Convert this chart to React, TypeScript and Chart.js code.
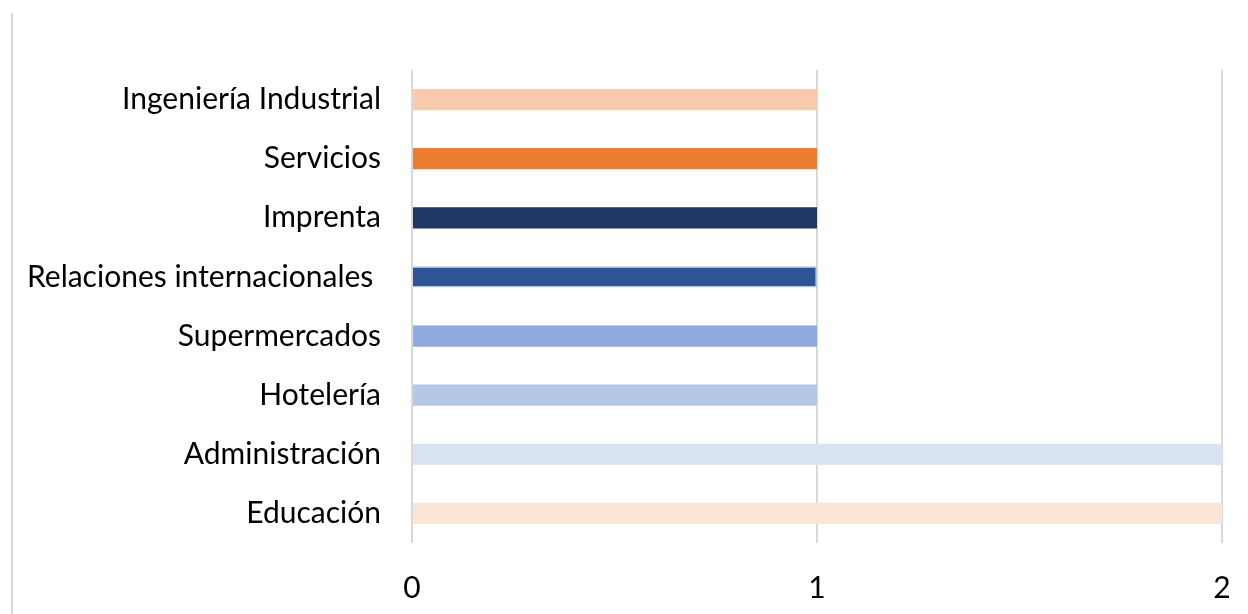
import React, { useEffect, useRef } from "react";
import { Chart, registerables } from "chart.js";

Chart.register(...registerables);

const categories = [
  "Ingeniería Industrial",
  "Servicios",
  "Imprenta",
  "Relaciones internacionales ",
  "Supermercados",
  "Hotelería",
  "Administración",
  "Educación",
];
const values = [1, 1, 1, 1, 1, 1, 2, 2];
const barColors = [
  "#F8CBAD",
  "#ED7D31",
  "#203864",
  "#2F5597",
  "#8FAADC",
  "#B4C7E7",
  "#DAE3F3",
  "#FBE5D6",
];
const barBorderColors = [
  "#F8CBAD",
  "#ED7D31",
  "#203864",
  "#B4C7E7",
  "#8FAADC",
  "#B4C7E7",
  "#DAE3F3",
  "#FBE5D6",
];
const barBorderWidths = [0, 0, 0, 1.5, 0, 0, 0, 0];
const xMin = 0;
const xMax = 2;
const xStep = 1;

const FONT = "Lato, 'Open Sans', sans-serif";

const frameLine = {
  id: "frameLine",
  beforeDraw(chart: any) {
    const ctx = chart.ctx;
    ctx.save();
    ctx.strokeStyle = "#D9D9D9";
    ctx.lineWidth = 2;
    ctx.beginPath();
    ctx.moveTo(12, 13);
    ctx.lineTo(12, 614);
    ctx.stroke();
    ctx.restore();
  },
};

export default function App() {
  const ref = useRef<HTMLCanvasElement | null>(null);
  useEffect(() => {
    if (!ref.current) return;
    const chart = new Chart(ref.current, {
      type: "bar",
      data: {
        labels: categories,
        datasets: [
          {
            data: values,
            backgroundColor: barColors,
            borderColor: barBorderColors,
            borderWidth: barBorderWidths,
            barPercentage: 0.36,
            categoryPercentage: 1,
          },
        ],
      },
      options: {
        indexAxis: "y",
        responsive: false,
        animation: false,
        layout: { padding: { top: 70, right: 26, left: 0, bottom: 0 } },
        plugins: {
          legend: { display: false },
          tooltip: { enabled: false },
          title: { display: false },
        },
        scales: {
          y: {
            grid: { display: false, drawTicks: false },
            border: { display: false },
            ticks: {
              color: "#000000",
              font: { family: FONT, size: 30 },
              padding: 31,
            },
            afterFit(scale: any) {
              scale.width = 412;
            },
          },
          x: {
            min: xMin,
            max: xMax,
            grid: { color: "#D9D9D9", lineWidth: 2, drawTicks: false },
            border: { display: false },
            ticks: {
              stepSize: xStep,
              color: "#000000",
              font: { family: FONT, size: 30 },
              padding: 27,
            },
            afterFit(scale: any) {
              scale.height = 71;
              scale.paddingLeft = 0;
              scale.paddingRight = 0;
            },
          },
        },
      },
      plugins: [frameLine],
    });
    return () => chart.destroy();
  }, []);
  return (
    <div style={{ position: "absolute", left: 0, top: 0, width: 1248, height: 614, background: "#fff" }}>
      <canvas ref={ref} width={1248} height={614} />
    </div>
  );
}
